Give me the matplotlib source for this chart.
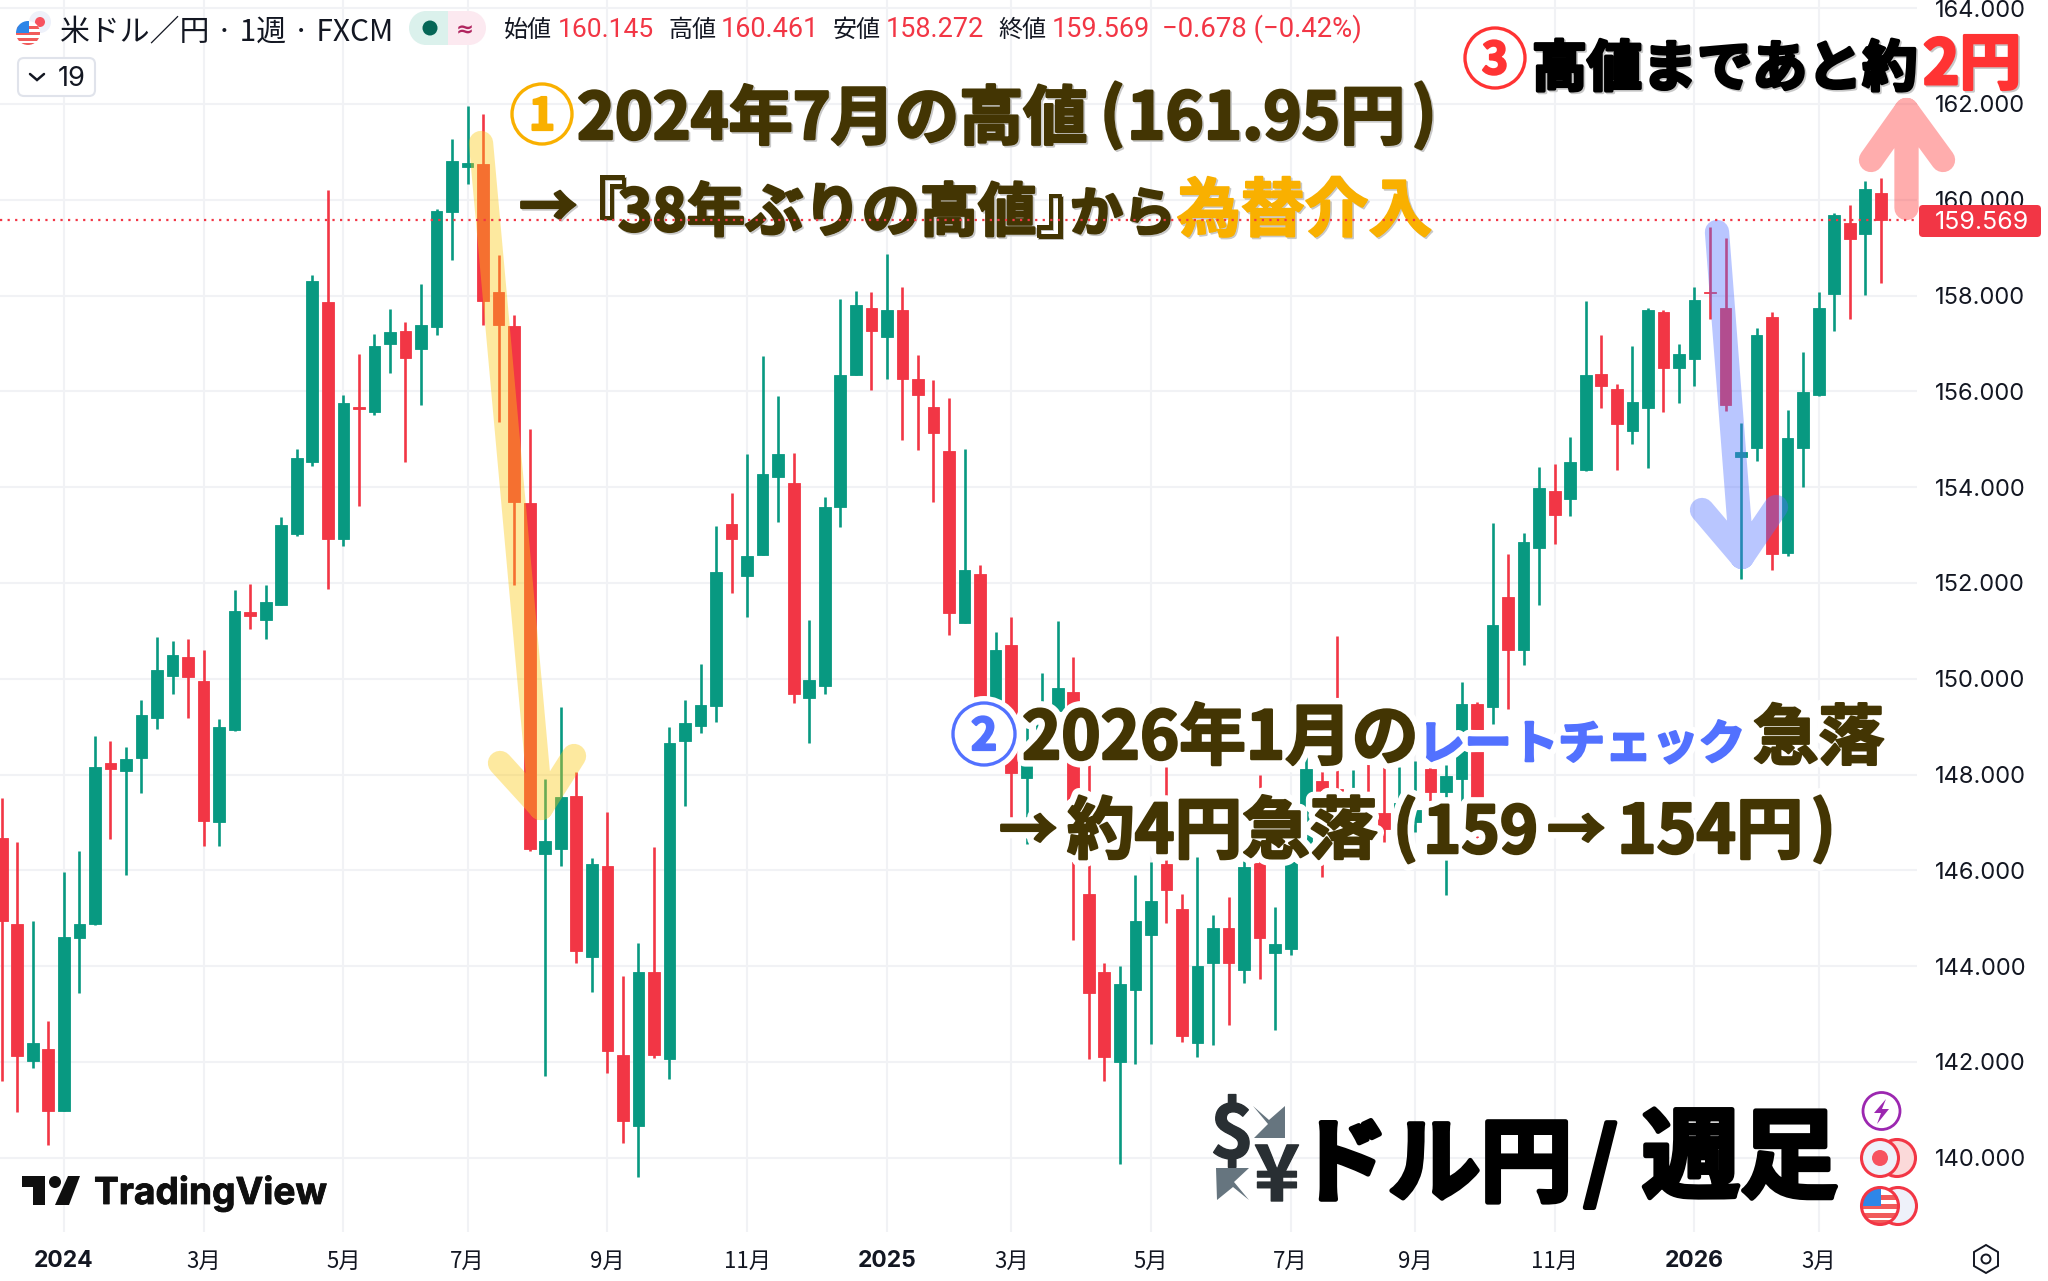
import matplotlib
matplotlib.use('Agg')
import matplotlib.pyplot as plt
import matplotlib.patheffects as pe
from matplotlib.patches import Circle, FancyBboxPatch, PathPatch, Polygon, Rectangle
from matplotlib.path import Path
from matplotlib.transforms import Affine2D

CJK = ['Noto Sans CJK JP', 'DejaVu Sans']
UP = '#089981'
DOWN = '#F23645'
INK = '#131722'
OLIVE = '#433503'
BLUE = '#5271FF'
AMBER = '#F9B000'
RED = '#FF3333'

# weekly USD/JPY candles
opens = [146.68, 144.88, 142.02, 142.28, 140.98, 144.58, 144.88, 148.24, 148.07, 148.35,
         149.19, 150.06, 150.45, 149.96, 147.00, 148.92, 151.39, 151.23, 151.54, 153.02,
         154.52, 157.86, 152.91, 155.67, 155.56, 156.98, 157.26, 156.88, 157.35, 159.75,
         160.69, 160.75, 158.08, 157.36, 153.66, 146.35, 146.44, 147.55, 144.19, 146.09,
         142.15, 140.66, 143.88, 142.06, 148.70, 149.02, 149.44, 153.24, 152.15, 152.59,
         154.22, 154.08, 149.60, 149.84, 153.59, 156.35, 157.75, 157.13, 157.69, 156.25,
         155.67, 154.76, 151.17, 152.18, 149.00, 150.70, 147.92, 148.53, 149.33, 149.72,
         145.50, 143.87, 141.99, 143.50, 144.66, 146.14, 145.20, 142.39, 144.07, 144.80,
         143.93, 146.16, 144.27, 144.36, 146.40, 147.87, 147.69, 147.57, 147.40, 147.20,
         146.67, 147.00, 148.12, 147.64, 147.91, 149.47, 149.41, 151.71, 150.60, 152.73,
         153.93, 153.76, 154.35, 156.37, 156.05, 155.18, 155.65, 157.65, 156.49, 156.68,
         158.08, 157.75, 154.62, 154.82, 157.56, 152.63, 154.82, 155.92, 158.03, 159.51,
         159.28, 160.145]
highs = [147.51, 146.59, 144.95, 142.85, 145.97, 146.41, 148.80, 148.71, 148.58, 149.56,
         150.88, 150.78, 150.83, 150.59, 149.17, 151.86, 151.98, 151.95, 153.38, 154.79,
         158.42, 160.20, 155.93, 156.78, 157.19, 157.72, 157.45, 158.24, 159.81, 161.27,
         161.95, 161.80, 158.84, 157.60, 155.21, 147.91, 149.40, 148.05, 146.25, 147.22,
         143.79, 144.49, 146.49, 149.00, 149.55, 150.31, 153.18, 153.88, 154.70, 156.74,
         155.90, 154.71, 151.22, 153.79, 157.92, 158.10, 158.07, 158.86, 158.18, 156.75,
         156.24, 155.86, 154.79, 152.37, 150.97, 151.29, 149.00, 150.13, 151.20, 150.46,
         148.19, 144.07, 144.01, 145.91, 146.18, 148.16, 145.50, 146.27, 145.07, 145.44,
         146.20, 148.00, 145.23, 146.40, 148.80, 148.47, 150.90, 148.09, 148.47, 148.20,
         148.16, 148.29, 148.22, 148.20, 149.94, 149.51, 153.26, 152.60, 153.05, 154.43,
         154.48, 155.04, 157.88, 157.17, 156.16, 156.95, 157.75, 157.69, 156.99, 158.18,
         159.44, 159.20, 155.34, 157.33, 157.65, 155.62, 156.82, 158.08, 159.73, 159.89,
         160.39, 160.461]
lows = [141.61, 140.95, 141.87, 140.26, 140.97, 143.44, 144.86, 146.66, 145.90, 147.61,
        148.95, 149.69, 149.19, 146.50, 146.50, 148.90, 151.04, 150.82, 151.53, 152.97,
        154.45, 151.87, 152.77, 153.60, 155.51, 156.38, 154.52, 155.71, 157.17, 158.74,
        160.32, 157.38, 155.37, 151.96, 146.41, 141.71, 146.09, 144.06, 143.46, 141.77,
        140.31, 139.59, 142.08, 141.64, 147.35, 148.86, 149.09, 151.79, 151.29, 152.58,
        153.28, 149.49, 148.65, 149.69, 153.16, 156.34, 156.02, 156.25, 154.98, 154.77,
        153.70, 150.92, 151.16, 148.73, 148.88, 147.07, 146.54, 148.40, 148.93, 144.54,
        142.06, 141.61, 139.88, 141.95, 142.37, 144.91, 142.41, 142.11, 142.35, 142.78,
        143.65, 143.74, 142.67, 144.23, 146.27, 145.87, 146.67, 147.33, 146.87, 146.60,
        146.54, 146.80, 147.45, 145.48, 147.45, 146.66, 149.05, 149.37, 150.28, 151.54,
        152.82, 153.40, 154.34, 155.65, 154.35, 154.91, 154.41, 155.56, 155.75, 156.11,
        157.51, 155.59, 152.09, 154.55, 152.28, 152.57, 154.00, 155.91, 157.26, 157.51,
        158.01, 158.272]
closes = [144.95, 142.12, 142.39, 140.98, 144.60, 144.88, 148.16, 148.11, 148.33, 149.24,
          150.19, 150.50, 150.04, 147.04, 148.99, 151.41, 151.30, 151.60, 153.21, 154.61,
          158.30, 152.91, 155.75, 155.64, 156.95, 157.23, 156.69, 157.38, 159.77, 160.81,
          160.76, 157.89, 157.38, 153.70, 146.44, 146.62, 147.53, 144.32, 146.13, 142.23,
          140.76, 143.87, 142.15, 148.65, 149.08, 149.46, 152.23, 152.91, 152.56, 154.28,
          154.70, 149.69, 149.97, 153.59, 156.35, 157.80, 157.25, 157.69, 156.25, 155.93,
          155.12, 151.38, 152.27, 148.93, 150.61, 148.03, 148.19, 149.33, 149.80, 146.27,
          143.43, 142.10, 143.63, 144.94, 145.35, 145.60, 142.54, 144.01, 144.80, 144.06,
          146.06, 144.59, 144.47, 146.27, 148.11, 147.63, 147.65, 147.67, 147.00, 146.87,
          147.40, 147.27, 147.64, 147.96, 149.47, 147.53, 151.12, 150.60, 152.86, 153.99,
          153.41, 154.52, 156.34, 156.11, 155.31, 155.78, 157.69, 156.49, 156.78, 157.90,
          158.06, 155.72, 154.74, 157.17, 152.61, 155.02, 155.99, 157.73, 159.69, 159.18,
          160.23, 159.569]

tick_weeks = [4, 13, 22, 30, 39, 48, 57, 65, 74, 83, 91, 100, 109, 117]
tick_names = ['2024', '3月', '5月', '7月', '9月', '11月', '2025', '3月', '5月', '7月', '9月', '11月', '2026', '3月']
price_ticks = [140, 142, 144, 146, 148, 150, 152, 154, 156, 158, 160, 162, 164]

fig = plt.figure(figsize=(20.48, 12.81), dpi=100, facecolor='white')
ax = fig.add_axes([0, 49 / 1281, 1917 / 2048, 1232 / 1281])
for s in ax.spines.values():
    s.set_visible(False)

weeks = range(len(opens))
colors = [UP if c >= o else DOWN for o, c in zip(opens, closes)]
ax.vlines(weeks, lows, highs, color=colors, lw=1.9, zorder=3)
ax.bar(weeks, [c - o for o, c in zip(opens, closes)], bottom=opens, width=0.75,
       color=colors, edgecolor=colors, lw=0.6, zorder=3)
ax.axhline(closes[-1], color=DOWN, lw=1.6, ls=(0, (1, 2.4)), zorder=6)

ax.set_xlim(-0.109, 123.33)
ax.set_ylim(138.45, 164.17)
ax.grid(True, color='#F1F2F5', lw=1.5)
ax.set_axisbelow(True)
ax.yaxis.tick_right()
ax.set_yticks(price_ticks)
ax.set_yticklabels(['%.3f' % p for p in price_ticks], family='Inter', fontsize=17, color=INK)
ax.set_xticks(tick_weeks)
ax.set_xticklabels(tick_names)
for lab in ax.get_xticklabels():
    if lab.get_text().startswith('20'):
        lab.set(family='Inter', fontsize=16.5, fontweight='bold', color=INK)
    else:
        lab.set(family=CJK, fontsize=16, color=INK)
ax.tick_params(axis='both', length=0)
ax.tick_params(axis='y', pad=13)
ax.tick_params(axis='x', pad=13)

# overlay coordinates are image pixels, y going down
T = Affine2D().scale(1, -1).translate(0, 1281)
rend = fig.canvas.get_renderer()


def add(p, z=8):
    p.set_transform(T)
    p.set_zorder(z)
    ax.add_patch(p)
    p.set_clip_on(False)
    return p


def seg(x0, x1, base, s, color, size=30, weight='bold', fam=CJK, z=8, fx=None):
    t = ax.text(x0, base, s, transform=T, color=color, fontsize=size, fontweight=weight,
                family=fam, ha='left', va='baseline', zorder=z, clip_on=False)
    if x1 is not None:
        w = t.get_window_extent(rend).width
        t.set_fontsize(size * (x1 - x0) / w)
    if fx:
        t.set_path_effects(fx)
    return t


def fat(color, grow=1.8, halo=0, shadow=True):
    fx = []
    if halo:
        fx.append(pe.Stroke(linewidth=halo, foreground='white'))
    if shadow:
        fx.append(pe.Stroke(linewidth=grow, foreground='#C8C8C8', offset=(1.2, -1.2)))
    fx.append(pe.Stroke(linewidth=grow, foreground=color))
    fx.append(pe.Normal())
    return fx


def stroke_arrow(tail, tip, left, right, color, z=4):
    path = Path([tail, tip, left, tip, right],
                [Path.MOVETO, Path.LINETO, Path.MOVETO, Path.LINETO, Path.LINETO])
    add(PathPatch(path, fc='none', ec=color, alpha=0.4, lw=17.5, capstyle='round', joinstyle='round'), z)


def badge(cx, cy, r, digit, color, halo=False):
    if halo:
        add(Circle((cx, cy), r + 7, fc='white', ec='none'), 7)
    add(Circle((cx, cy), r, fc='white' if halo else 'none', ec=color, lw=2.4), 8)
    t = ax.text(cx, cy + 16, digit, transform=T, color=color, fontsize=32, fontweight='bold',
                family=CJK, ha='center', va='baseline', zorder=9, clip_on=False)
    t.set_path_effects(fat(color, 1.6, shadow=False))


def flag(cx, cy, r, z=8):
    c = add(Circle((cx, cy), r, fc='white', ec='none'), z)
    for dy in (-0.62, -0.12, 0.38, 0.8):
        b = add(Rectangle((cx - r, cy + dy * r), 2 * r, 0.26 * r, fc='#F15B5B', ec='none'), z)
        b.set_clip_path(c)
        b.set_clip_on(True)
    b = add(Rectangle((cx - r, cy - r), r * 1.05, r, fc='#2E86E8', ec='none'), z)
    b.set_clip_path(c)
    b.set_clip_on(True)


# arrows sit over the candles
stroke_arrow((481, 143), (541, 808), (500, 763), (574, 756), '#FCC811')
stroke_arrow((1717, 232), (1742, 557), (1702, 510), (1776, 507), BLUE)
stroke_arrow((1906.5, 208), (1906.5, 110), (1871, 160), (1943, 160), RED)

# annotation 1
badge(542, 114, 30, '1', AMBER)
fx = fat(OLIVE)
seg(577, 1087, 139, '2024年7月の高値', OLIVE, z=5, fx=fx)
seg(1100, None, 136, '(', OLIVE, size=47, z=5, fx=fx)
seg(1127, 1405, 139, '161.95円', OLIVE, z=5, fx=fx)
seg(1412, None, 136, ')', OLIVE, size=47, z=5, fx=fx)
seg(519, None, 227, '→', OLIVE, size=42, z=5, fx=fx)
seg(561, None, 231, '『', OLIVE, size=47, z=5, fx=fat(OLIVE, 0.6))
seg(618, 1036, 231, '38年ぶりの高値', OLIVE, z=5, fx=fx)
seg(1035, None, 231, '』', OLIVE, size=47, z=5, fx=fat(OLIVE, 0.6))
seg(1070, 1176, 231, 'から', OLIVE, z=5, fx=fx)
seg(1177, 1432, 231, '為替介入', AMBER, z=5, fx=fat(AMBER, 1.4))

# annotation 2, white halo cuts into the candles
badge(984, 734, 31, '2', BLUE, halo=True)
fx = fat(OLIVE, halo=11, shadow=False)
seg(1022, 1418, 759, '2026年1月の', OLIVE, fx=fx)
seg(1418, 1745, 759, 'レートチェック', BLUE, fx=fat(BLUE, halo=11, shadow=False))
seg(1753, 1884, 759, '急落', OLIVE, fx=fx)
seg(999, None, 850, '→', OLIVE, size=42, fx=fx)
seg(1067, 1377, 853, '約4円急落', OLIVE, fx=fx)
seg(1393, None, 850, '(', OLIVE, size=47, fx=fx)
seg(1423, 1538, 853, '159', OLIVE, fx=fx)
seg(1547, None, 850, '→', OLIVE, size=42, fx=fx)
seg(1617, 1803, 853, '154円', OLIVE, fx=fx)
seg(1811, None, 850, ')', OLIVE, size=47, fx=fx)

# annotation 3
badge(1495, 58, 30, '3', RED)
seg(1532, 1917, 86, '高値まであと約', 'black', fx=fat('black', 2.4))
seg(1923, 2021, 84, '2円', RED, fx=fat(RED, 2.2))

# title bottom right
fx = fat('black', 3.5, shadow=False)
seg(1296, 1572, 1194, 'ドル円', 'black', fx=fx)
seg(1584, None, 1192, '/', 'black', size=62, fx=fx)
seg(1642, 1838, 1190, '週足', 'black', fx=fx)
seg(1210, None, 1158, '$', '#292F33', size=54, fx=fat('#292F33', 1, shadow=False))
seg(1254, None, 1201, '¥', '#292F33', size=56, fx=fat('#292F33', 1, shadow=False))
add(Polygon([(1253, 1106), (1269, 1120), (1285, 1106), (1285, 1138), (1254, 1138), (1268, 1124)], fc='#66757F', ec='none'))
add(Polygon([(1216, 1168), (1249, 1168), (1234, 1182), (1249, 1200), (1233, 1187), (1217, 1200)], fc='#66757F', ec='none'))

# side icons
add(Circle((1881.5, 1111), 18.5, fc='white', ec='#9C27B0', lw=2))
add(Polygon([(1886, 1099), (1874, 1113), (1881, 1113), (1877, 1124), (1889, 1109), (1882, 1109)], fc='#9C27B0', ec='none'))
add(Circle((1897, 1158), 18.5, fc='#FBD9D9', ec=DOWN, lw=2.2))
add(Circle((1880, 1158), 18.5, fc='#EEF1FA', ec=DOWN, lw=2.2))
add(Circle((1880, 1158), 8, fc='#F7525F', ec='none'))
add(Circle((1898, 1206), 18.5, fc='#EEF1FA', ec=DOWN, lw=2.2))
flag(1880, 1206, 18)
add(Circle((1880, 1206), 18.5, fc='none', ec=DOWN, lw=2.2))

# header
add(Circle((40, 22), 11, fc='#EEF1FA', ec='none'))
add(Circle((40, 22), 5, fc='#F7525F', ec='none'))
flag(28, 33, 12)
seg(60, 393, 41, '米ドル／円 · 1週 · FXCM', INK, weight='normal')
add(Circle((426, 28), 17, fc='#DBF1EC', ec='none'))
add(Rectangle((426, 11), 22, 34, fc='#DBF1EC', ec='none'))
add(Rectangle((448, 11), 21, 34, fc='#FCE9F0', ec='none'))
add(Circle((469, 28), 17, fc='#FCE9F0', ec='none'))
add(Circle((430, 28), 7.5, fc='#056656', ec='none'))
seg(456, 474, 36, '≈', '#B0255F', weight='bold', fam=['DejaVu Sans'])
seg(504, 552, 37, '始値', INK, weight='normal')
seg(558, 654, 37, '160.145', DOWN, weight='normal', fam=['Roboto'])
seg(668, 716, 37, '高値', INK, weight='normal')
seg(721, 819, 37, '160.461', DOWN, weight='normal', fam=['Roboto'])
seg(833, 881, 37, '安値', INK, weight='normal')
seg(886, 984, 37, '158.272', DOWN, weight='normal', fam=['Roboto'])
seg(998, 1046, 37, '終値', INK, weight='normal')
seg(1052, 1150, 37, '159.569', DOWN, weight='normal', fam=['Roboto'])
seg(1162, 1362, 37, '−0.678 (−0.42%)', DOWN, weight='normal', fam=['Roboto'])

add(FancyBboxPatch((18, 58), 77, 38, boxstyle='round,pad=0,rounding_size=6', fc='white', ec='#E0E3EB', lw=1.5))
add(PathPatch(Path([(30, 74), (37, 80), (44, 74)]), fc='none', ec=INK, lw=1.8, capstyle='round'))
seg(58, 86, 86, '19', INK, weight='normal', fam=['Inter'])

# price tag
add(FancyBboxPatch((1919, 205), 122, 32, boxstyle='round,pad=0,rounding_size=4', fc=DOWN, ec='none'))
seg(1935, 2029, 229, '159.569', 'white', weight='normal', fam=['Inter'])

# TradingView logo
add(Polygon([(22, 1176), (45, 1176), (45, 1205), (33, 1205), (33, 1187), (22, 1187)], fc='#0F0F0F', ec='none'), 3)
add(Circle((55, 1182), 6, fc='#0F0F0F', ec='none'), 3)
add(Polygon([(68, 1176), (80, 1176), (69, 1205), (55, 1205)], fc='#0F0F0F', ec='none'), 3)
seg(94, 327, 1204, 'TradingView', '#0F0F0F', weight='bold', fam=['Inter'], z=3, fx=[pe.Stroke(linewidth=0.6, foreground='#0F0F0F'), pe.Normal()])

# settings hexagon
add(Polygon([(1986, 1245), (1998, 1252), (1998, 1266), (1986, 1273), (1974, 1266), (1974, 1252)], fc='white', ec=INK, lw=1.4))
add(Circle((1986, 1259), 4.5, fc='white', ec=INK, lw=1.4))

fig.savefig('out.png', dpi=100)
